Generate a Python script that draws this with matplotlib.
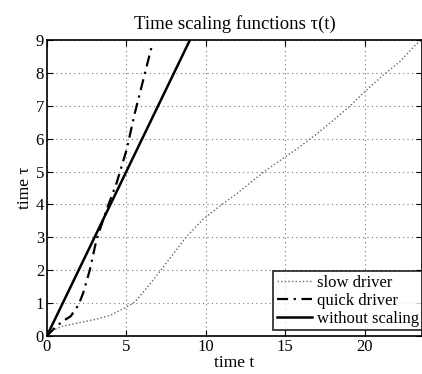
import matplotlib
matplotlib.use("Agg")
import matplotlib.pyplot as plt

# --- data ---
slow_t = [0, 0.3, 1, 2, 3, 4, 5, 5.53, 6.69, 7.74, 8.78, 9.83, 10.88, 11.93, 12.87,
          13.82, 14.86, 15.91, 16.96, 18.0, 19.06, 20.0, 21.15, 22.2, 23.25, 23.6]
slow_tau = [0, 0.15, 0.3, 0.4, 0.5, 0.63, 0.88, 1.03, 1.7, 2.36, 3.02, 3.55, 3.95, 4.32, 4.69,
            5.05, 5.4, 5.75, 6.14, 6.55, 6.99, 7.43, 7.93, 8.34, 8.88, 9.0]

quick_t = [0, 0.5, 1.0, 1.5, 2.0, 2.28, 2.7, 3.12, 3.75, 4.38, 5.01, 5.53, 6.06, 6.62]
quick_tau = [0, 0.25, 0.45, 0.6, 0.95, 1.3, 2.0, 2.92, 3.83, 4.64, 5.65, 6.77, 7.78, 8.85]

noscale_t = [0, 9]
noscale_tau = [0, 9]

xticks = [0, 5, 10, 15, 20]
yticks = list(range(0, 10))

plt.rcParams['font.family'] = ['Liberation Serif', 'DejaVu Serif']

fig = plt.figure(figsize=(4.22, 3.74), dpi=100)
ax = fig.add_axes([0.111, 0.1016, 0.889, 0.7914])

ax.plot(slow_t, slow_tau, linestyle=(0, (1, 1.6)), color='#666666', lw=1.0, label='slow driver')
ax.plot(quick_t, quick_tau, linestyle=(0, (5, 2.5, 1, 2.5)), color='black', lw=1.6, label='quick driver')
ax.plot(noscale_t, noscale_tau, linestyle='-', color='black', lw=1.8, label='without scaling')

ax.set_xlim(0, 23.6)
ax.set_ylim(0, 9)
ax.set_xticks(xticks)
ax.set_yticks(yticks)
ax.tick_params(direction='in', top=True, right=True, labelsize=12, length=4, width=0.8, pad=2)
ax.grid(True, linestyle=(0, (1, 3)), color='#777777', lw=0.8)
for s in ax.spines.values():
    s.set_linewidth(1.2)
    s.set_color('black')

ax.set_title('Time scaling functions τ(t)', fontsize=13.5, pad=8)
ax.set_xlabel('time t', fontsize=12.5, labelpad=0)
ax.set_ylabel('time τ', fontsize=12.5, labelpad=2)

leg = ax.legend(loc='lower right', bbox_to_anchor=(1.0, 0.02), fontsize=12, frameon=True,
                fancybox=False, borderpad=0.2, labelspacing=0.12, handlelength=2.1,
                handletextpad=0.3, borderaxespad=0.0)
leg.get_frame().set_edgecolor('black')
leg.get_frame().set_linewidth(1.3)

fig.savefig('out.png', dpi=100)
